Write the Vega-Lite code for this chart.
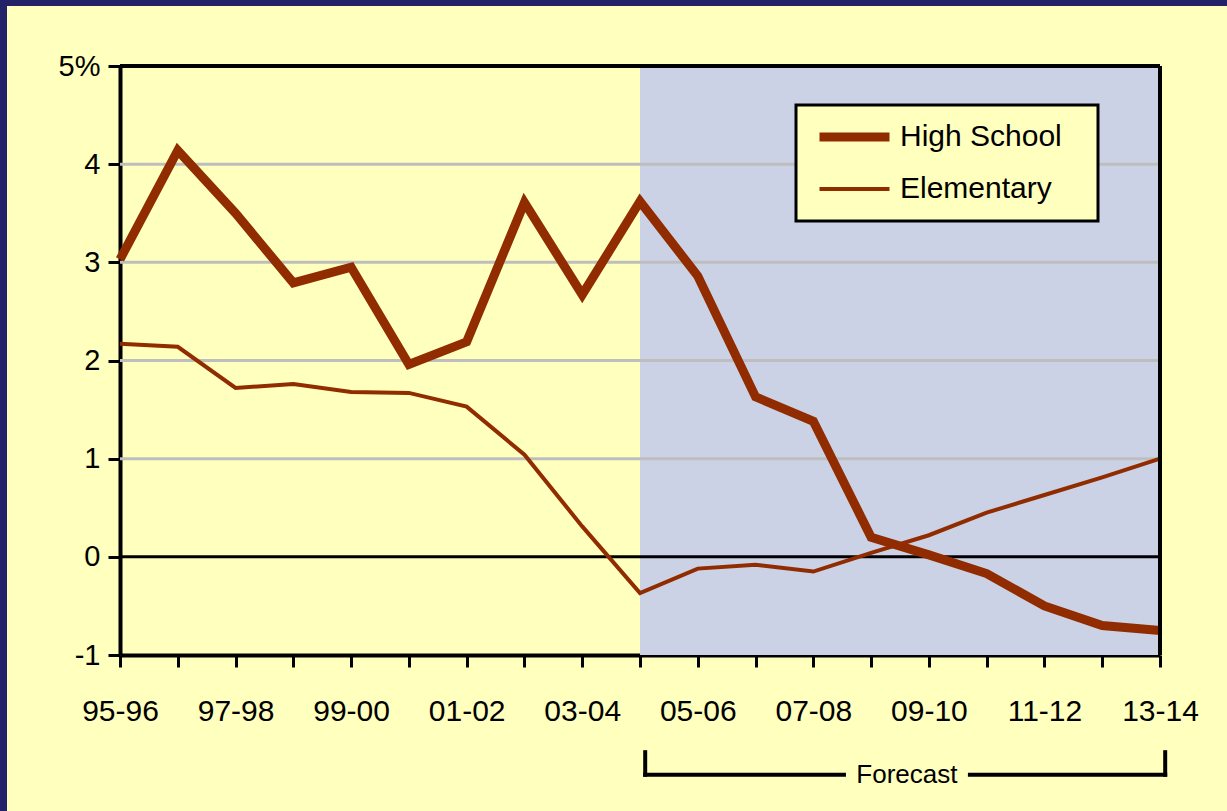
{
  "$schema": "https://vega.github.io/schema/vega-lite/v6.json",
  "width": 1220,
  "height": 805,
  "autosize": {"type": "none"},
  "padding": {"left": 7, "top": 6, "right": 0, "bottom": 0},
  "background": "#232167",
  "config": {
    "view": {"fill": "#FFFFBE", "stroke": null},
    "font": "Liberation Sans",
    "axis": {"grid": false}
  },
  "layer": [
    {
      "data": {"values": [{"from": 9, "to": 18}]},
      "mark": {"type": "rect", "color": "#CCD2E5"},
      "encoding": {
        "x": {"field": "from", "type": "quantitative", "title": null, "scale": {"domain": [0, 18], "range": [113, 1153], "nice": false, "zero": false}},
        "x2": {"field": "to"},
        "y": {"datum": 5, "type": "quantitative", "title": null, "scale": {"domain": [-1, 5], "range": [649, 60], "nice": false, "zero": false}},
        "y2": {"datum": -1}
      }
    },
    {
      "data": {"values": [{"v": 1}, {"v": 2}, {"v": 3}, {"v": 4}]},
      "mark": {"type": "rule", "color": "#BEBEBE", "strokeWidth": 3},
      "encoding": {
        "y": {"field": "v", "type": "quantitative", "title": null, "scale": {"domain": [-1, 5], "range": [649, 60], "nice": false, "zero": false}},
        "x": {"datum": 0, "type": "quantitative", "title": null, "scale": {"domain": [0, 18], "range": [113, 1153], "nice": false, "zero": false}},
        "x2": {"datum": 18}
      }
    },
    {
      "data": {"values": [{"v": 0}]},
      "mark": {"type": "rule", "color": "#000000", "strokeWidth": 3},
      "encoding": {
        "y": {"field": "v", "type": "quantitative", "title": null, "scale": {"domain": [-1, 5], "range": [649, 60], "nice": false, "zero": false}},
        "x": {"datum": 0, "type": "quantitative", "title": null, "scale": {"domain": [0, 18], "range": [113, 1153], "nice": false, "zero": false}},
        "x2": {"datum": 18}
      }
    },
    {
      "data": {"values": [
        {"year": "95-96", "i": 0, "series": "High School", "value": 3.03},
        {"year": "96-97", "i": 1, "series": "High School", "value": 4.14},
        {"year": "97-98", "i": 2, "series": "High School", "value": 3.50},
        {"year": "98-99", "i": 3, "series": "High School", "value": 2.79},
        {"year": "99-00", "i": 4, "series": "High School", "value": 2.95},
        {"year": "00-01", "i": 5, "series": "High School", "value": 1.96},
        {"year": "01-02", "i": 6, "series": "High School", "value": 2.19},
        {"year": "02-03", "i": 7, "series": "High School", "value": 3.61},
        {"year": "03-04", "i": 8, "series": "High School", "value": 2.67},
        {"year": "04-05", "i": 9, "series": "High School", "value": 3.62},
        {"year": "05-06", "i": 10, "series": "High School", "value": 2.86},
        {"year": "06-07", "i": 11, "series": "High School", "value": 1.63},
        {"year": "07-08", "i": 12, "series": "High School", "value": 1.38},
        {"year": "08-09", "i": 13, "series": "High School", "value": 0.20},
        {"year": "09-10", "i": 14, "series": "High School", "value": 0.02},
        {"year": "10-11", "i": 15, "series": "High School", "value": -0.17},
        {"year": "11-12", "i": 16, "series": "High School", "value": -0.50},
        {"year": "12-13", "i": 17, "series": "High School", "value": -0.70},
        {"year": "13-14", "i": 18, "series": "High School", "value": -0.75},
        {"year": "95-96", "i": 0, "series": "Elementary", "value": 2.17},
        {"year": "96-97", "i": 1, "series": "Elementary", "value": 2.14},
        {"year": "97-98", "i": 2, "series": "Elementary", "value": 1.72},
        {"year": "98-99", "i": 3, "series": "Elementary", "value": 1.76},
        {"year": "99-00", "i": 4, "series": "Elementary", "value": 1.68},
        {"year": "00-01", "i": 5, "series": "Elementary", "value": 1.67},
        {"year": "01-02", "i": 6, "series": "Elementary", "value": 1.53},
        {"year": "02-03", "i": 7, "series": "Elementary", "value": 1.04},
        {"year": "03-04", "i": 8, "series": "Elementary", "value": 0.31},
        {"year": "04-05", "i": 9, "series": "Elementary", "value": -0.37},
        {"year": "05-06", "i": 10, "series": "Elementary", "value": -0.12},
        {"year": "06-07", "i": 11, "series": "Elementary", "value": -0.08},
        {"year": "07-08", "i": 12, "series": "Elementary", "value": -0.15},
        {"year": "08-09", "i": 13, "series": "Elementary", "value": 0.04},
        {"year": "09-10", "i": 14, "series": "Elementary", "value": 0.22},
        {"year": "10-11", "i": 15, "series": "Elementary", "value": 0.45},
        {"year": "11-12", "i": 16, "series": "Elementary", "value": 0.63},
        {"year": "12-13", "i": 17, "series": "Elementary", "value": 0.81},
        {"year": "13-14", "i": 18, "series": "Elementary", "value": 1.00}
      ]},
      "mark": {"type": "line", "color": "#902C00", "strokeJoin": "miter", "strokeCap": "butt"},
      "encoding": {
        "x": {
          "field": "i", "type": "quantitative", "title": null,
          "scale": {"domain": [0, 18], "range": [113, 1153], "nice": false, "zero": false},
          "axis": {
            "values": [0, 1, 2, 3, 4, 5, 6, 7, 8, 9, 10, 11, 12, 13, 14, 15, 16, 17, 18],
            "labelExpr": "datum.value % 2 == 0 ? ['95-96','96-97','97-98','98-99','99-00','00-01','01-02','02-03','03-04','04-05','05-06','06-07','07-08','08-09','09-10','10-11','11-12','12-13','13-14'][datum.value] : ''",
            "offset": -156,
            "domainColor": "#000000", "domainWidth": 4,
            "tickColor": "#000000", "tickWidth": 3, "tickSize": 12,
            "labelFontSize": 30, "labelColor": "#000000", "labelPadding": 29,
            "labelOverlap": false, "labelFlush": false
          }
        },
        "y": {
          "field": "value", "type": "quantitative", "title": null,
          "scale": {"domain": [-1, 5], "range": [649, 60], "nice": false, "zero": false},
          "axis": {
            "values": [-1, 0, 1, 2, 3, 4, 5],
            "labelExpr": "datum.value == 5 ? '5%' : toString(datum.value)",
            "offset": -113,
            "domainColor": "#000000", "domainWidth": 4,
            "tickColor": "#000000", "tickWidth": 3, "tickSize": 12,
            "labelFontSize": 29, "labelColor": "#000000", "labelPadding": 8,
            "labelOverlap": false, "labelFlush": false
          }
        },
        "strokeWidth": {
          "field": "series", "type": "ordinal",
          "scale": {"domain": ["High School", "Elementary"], "range": [9, 4]},
          "legend": {
            "title": null, "orient": "none", "legendX": 789, "legendY": 99,
            "fillColor": "#FFFFBE", "strokeColor": "#000000", "padding": 17,
            "symbolType": "stroke", "symbolStrokeColor": "#902C00", "symbolSize": 4900,
            "symbolOffset": 2, "clipHeight": 30,
            "labelFontSize": 30, "labelColor": "#000000", "labelOffset": 6, "rowPadding": 22,
            "labelLimit": 400,
            "encode": {
              "legend": {"update": {"strokeWidth": {"value": 3}}},
              "entries": {"update": {"width": {"value": 268}}}
            }
          }
        }
      }
    },
    {
      "data": {"values": [{"v": 5}]},
      "mark": {"type": "rule", "color": "#000000", "strokeWidth": 4},
      "encoding": {
        "y": {"field": "v", "type": "quantitative", "title": null, "scale": {"domain": [-1, 5], "range": [649, 60], "nice": false, "zero": false}},
        "x": {"datum": 0, "type": "quantitative", "title": null, "scale": {"domain": [0, 18], "range": [113, 1153], "nice": false, "zero": false}},
        "x2": {"datum": 18}
      }
    },
    {
      "data": {"values": [{"v": 18}]},
      "mark": {"type": "rule", "color": "#000000", "strokeWidth": 4},
      "encoding": {
        "x": {"field": "v", "type": "quantitative", "title": null, "scale": {"domain": [0, 18], "range": [113, 1153], "nice": false, "zero": false}},
        "y": {"datum": -1, "type": "quantitative", "title": null, "scale": {"domain": [-1, 5], "range": [649, 60], "nice": false, "zero": false}},
        "y2": {"datum": 5}
      }
    },
    {
      "data": {"values": [
        {"x": 9.09, "x2": 9.09, "y": -1.99, "y2": -2.22},
        {"x": 18.09, "x2": 18.09, "y": -1.99, "y2": -2.22},
        {"x": 9.09, "x2": 12.53, "y": -2.22, "y2": -2.22},
        {"x": 14.71, "x2": 18.09, "y": -2.22, "y2": -2.22}
      ]},
      "mark": {"type": "rule", "color": "#000000", "strokeWidth": 4, "strokeCap": "square"},
      "encoding": {
        "x": {"field": "x", "type": "quantitative", "title": null, "scale": {"domain": [0, 18], "range": [113, 1153], "nice": false, "zero": false}},
        "x2": {"field": "x2"},
        "y": {"field": "y", "type": "quantitative", "title": null, "scale": {"domain": [-1, 5], "range": [649, 60], "nice": false, "zero": false}},
        "y2": {"field": "y2"}
      }
    },
    {
      "data": {"values": [{"label": "Forecast", "x": 13.62, "y": -2.22}]},
      "mark": {"type": "text", "fontSize": 26, "color": "#000000", "align": "center", "baseline": "middle"},
      "encoding": {
        "x": {"field": "x", "type": "quantitative", "title": null, "scale": {"domain": [0, 18], "range": [113, 1153], "nice": false, "zero": false}},
        "y": {"field": "y", "type": "quantitative", "title": null, "scale": {"domain": [-1, 5], "range": [649, 60], "nice": false, "zero": false}},
        "text": {"field": "label"}
      }
    }
  ]
}
